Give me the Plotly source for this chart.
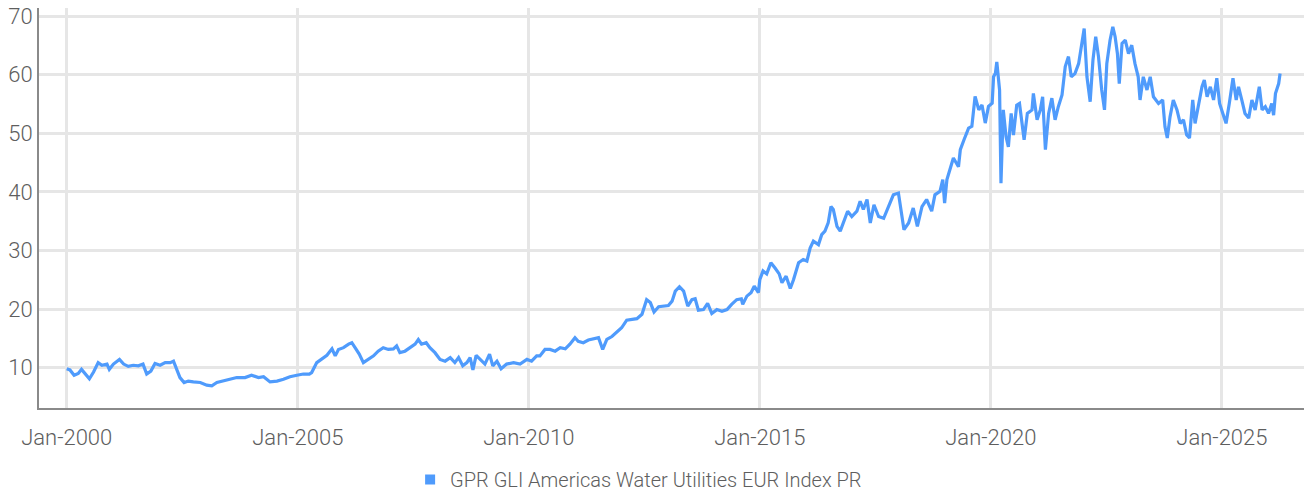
import plotly.graph_objects as go
import pandas as pd

# Time positions as decimal years and index values
years = [
    2000.00, 2000.07, 2000.16, 2000.25, 2000.32, 2000.40, 2000.49, 2000.58, 2000.68, 2000.76,
    2000.87, 2000.92, 2001.01, 2001.14, 2001.23, 2001.33, 2001.44, 2001.55, 2001.65, 2001.73,
    2001.82, 2001.91, 2002.02, 2002.13, 2002.24, 2002.31, 2002.38, 2002.45, 2002.54, 2002.63,
    2002.74, 2002.89, 2003.03, 2003.14, 2003.25, 2003.39, 2003.53, 2003.68, 2003.86, 2004.00,
    2004.15, 2004.26, 2004.40, 2004.55, 2004.69, 2004.83, 2004.98, 2005.12, 2005.25, 2005.30,
    2005.41, 2005.52, 2005.63, 2005.74, 2005.81, 2005.88, 2005.99, 2006.10, 2006.17, 2006.24,
    2006.33, 2006.42, 2006.53, 2006.64, 2006.74, 2006.85, 2006.96, 2007.07, 2007.14, 2007.21,
    2007.32, 2007.43, 2007.54, 2007.61, 2007.68, 2007.78, 2007.86, 2007.97, 2008.08, 2008.19,
    2008.30, 2008.40, 2008.48, 2008.57, 2008.66, 2008.73, 2008.79, 2008.86, 2008.95, 2009.05,
    2009.15, 2009.22, 2009.31, 2009.40, 2009.52, 2009.67, 2009.81, 2009.96, 2010.06, 2010.17,
    2010.24, 2010.35, 2010.46, 2010.57, 2010.68, 2010.79, 2010.89, 2011.00, 2011.07, 2011.18,
    2011.29, 2011.40, 2011.51, 2011.60, 2011.69, 2011.80, 2011.90, 2012.01, 2012.12, 2012.23,
    2012.34, 2012.45, 2012.55, 2012.63, 2012.71, 2012.81, 2012.91, 2013.02, 2013.10, 2013.17,
    2013.26, 2013.35, 2013.44, 2013.53, 2013.60, 2013.67, 2013.78, 2013.87, 2013.96, 2014.07,
    2014.18, 2014.29, 2014.39, 2014.50, 2014.60, 2014.63, 2014.72, 2014.81, 2014.88, 2014.97,
    2015.00, 2015.07, 2015.15, 2015.24, 2015.33, 2015.42, 2015.48, 2015.57, 2015.66, 2015.73,
    2015.84, 2015.94, 2016.02, 2016.09, 2016.16, 2016.27, 2016.34, 2016.41, 2016.48, 2016.54,
    2016.59, 2016.67, 2016.74, 2016.81, 2016.90, 2016.99, 2017.10, 2017.17, 2017.24, 2017.32,
    2017.39, 2017.47, 2017.57, 2017.68, 2017.78, 2017.89, 2018.00, 2018.07, 2018.12, 2018.22,
    2018.32, 2018.41, 2018.51, 2018.61, 2018.72, 2018.79, 2018.90, 2018.96, 2019.00, 2019.05,
    2019.12, 2019.19, 2019.30, 2019.34, 2019.42, 2019.52, 2019.59, 2019.66, 2019.74, 2019.81,
    2019.88, 2019.95, 2020.03, 2020.06, 2020.10, 2020.13, 2020.19, 2020.22, 2020.27, 2020.33,
    2020.38, 2020.44, 2020.49, 2020.56, 2020.62, 2020.67, 2020.72, 2020.79, 2020.89, 2020.92,
    2021.00, 2021.07, 2021.12, 2021.18, 2021.25, 2021.32, 2021.39, 2021.46, 2021.54, 2021.61,
    2021.68, 2021.74, 2021.82, 2021.90, 2021.97, 2022.02, 2022.08, 2022.15, 2022.21, 2022.27,
    2022.33, 2022.40, 2022.46, 2022.51, 2022.58, 2022.64, 2022.69, 2022.74, 2022.78, 2022.84,
    2022.91, 2022.98, 2023.05, 2023.12, 2023.19, 2023.23, 2023.30, 2023.38, 2023.45, 2023.52,
    2023.63, 2023.72, 2023.77, 2023.82, 2023.88, 2023.95, 2024.03, 2024.10, 2024.17, 2024.24,
    2024.30, 2024.37, 2024.42, 2024.49, 2024.57, 2024.62, 2024.68, 2024.75, 2024.82, 2024.89,
    2024.95, 2025.02, 2025.09, 2025.16, 2025.24, 2025.31, 2025.36, 2025.43, 2025.50, 2025.58,
    2025.65, 2025.72, 2025.81, 2025.87, 2025.94, 2026.01, 2026.08, 2026.12, 2026.16, 2026.23,
    2026.26,
]
values = [
    9.8, 9.6, 8.7, 9.0, 9.7, 8.9, 8.1, 9.25, 10.85, 10.4,
    10.6, 9.7, 10.6, 11.4, 10.6, 10.2, 10.4, 10.3, 10.6, 8.9,
    9.4, 10.7, 10.4, 10.85, 10.85, 11.1, 9.7, 8.3, 7.45, 7.7,
    7.55, 7.45, 7.0, 6.9, 7.45, 7.7, 7.9, 8.3, 8.3, 8.7,
    8.3, 8.45, 7.55, 7.7, 8.0, 8.45, 8.7, 8.9, 8.9, 9.15,
    10.85, 11.5, 12.1, 13.2, 12.0, 13.1, 13.4, 14.0, 14.25, 13.4,
    12.3, 10.85, 11.4, 12.0, 12.8, 13.4, 13.1, 13.2, 13.7, 12.55,
    12.8, 13.4, 14.0, 14.8, 14.0, 14.25, 13.4, 12.55, 11.4, 11.1,
    11.7, 10.85, 11.7, 10.3, 10.85, 11.7, 9.6, 12.1, 11.4, 10.6,
    12.3, 10.3, 11.1, 9.8, 10.6, 10.85, 10.6, 11.4, 11.1, 12.0,
    12.0, 13.1, 13.1, 12.8, 13.4, 13.2, 14.0, 15.1, 14.5, 14.25,
    14.7, 14.9, 15.1, 13.1, 14.8, 15.3, 16.0, 16.8, 18.1, 18.2,
    18.35, 19.1, 21.6, 21.1, 19.5, 20.4, 20.5, 20.6, 21.35, 23.05,
    23.8, 23.05, 20.5, 21.6, 21.75, 19.8, 19.9, 20.95, 19.25, 19.9,
    19.6, 19.9, 20.8, 21.6, 21.75, 20.8, 22.2, 22.8, 23.9, 22.8,
    25.0, 26.5, 26.0, 27.9, 27.0, 26.0, 24.5, 25.6, 23.5, 25.0,
    27.9, 28.45, 28.2, 30.4, 31.6, 31.0, 32.7, 33.3, 34.7, 37.5,
    37.0, 34.1, 33.3, 34.7, 36.7, 35.8, 36.7, 38.4, 37.0, 38.7,
    34.7, 37.8, 35.8, 35.5, 37.5, 39.5, 39.8, 35.8, 33.55, 34.7,
    37.25, 34.1, 37.5, 38.7, 36.7, 39.5, 40.1, 42.1, 38.1, 42.1,
    43.8, 45.8, 44.3, 47.2, 48.9, 50.9, 51.2, 56.3, 54.0, 54.85,
    51.75, 54.6, 55.15, 59.65, 60.25, 62.2, 57.4, 41.5, 54.0, 49.4,
    47.7, 53.4, 49.7, 54.8, 55.1, 51.7, 48.9, 53.4, 54.0, 56.8,
    52.3, 54.0, 56.25, 47.2, 53.4, 56.0, 52.3, 54.55, 56.55, 61.4,
    63.1, 59.65, 60.2, 61.9, 65.35, 67.9, 59.65, 55.4, 62.5, 66.5,
    63.1, 57.4, 54.0, 61.9, 65.9, 68.2, 66.5, 63.6, 58.5, 65.35,
    65.9, 63.6, 65.05, 61.9, 59.65, 55.7, 59.65, 57.4, 59.65, 56.25,
    55.1, 55.7, 51.1, 49.2, 52.85, 55.7, 54.0, 51.7, 52.3, 49.7,
    49.2, 55.7, 51.7, 54.55, 57.95, 59.1, 56.25, 57.95, 55.7, 59.4,
    55.1, 53.4, 51.7, 55.1, 59.4, 55.7, 57.95, 55.7, 53.4, 52.6,
    55.7, 54.0, 57.95, 54.0, 54.55, 53.4, 55.1, 53.1, 56.8, 58.5,
    60.2,
]
tick_dates = ["2000-01-01", "2005-01-01", "2010-01-01", "2015-01-01", "2020-01-01", "2025-01-01"]
tick_labels = ["Jan-2000", "Jan-2005", "Jan-2010", "Jan-2015", "Jan-2020", "Jan-2025"]
y_ticks = [10, 20, 30, 40, 50, 60, 70]
series_name = "GPR GLI Americas Water Utilities EUR Index PR"


def to_date(y):
    yr = int(y)
    start = pd.Timestamp(year=yr, month=1, day=1)
    end = pd.Timestamp(year=yr + 1, month=1, day=1)
    return start + (end - start) * (y - yr)


dates = [to_date(y) for y in years]

LINE = "#4f9bfc"
FONT = "Roboto, sans-serif"
TXT = "#5e5e5e"

fig = go.Figure()
fig.add_trace(go.Scatter(x=dates, y=values, mode="lines", line=dict(color=LINE, width=3.2),
                         showlegend=False, name=series_name))
fig.add_trace(go.Scatter(x=[None], y=[None], mode="markers", name=series_name,
                         marker=dict(symbol="square", size=10, color=LINE)))

fig.update_layout(
    width=1304, height=493,
    margin=dict(l=39, r=0, t=8, b=85, autoexpand=False),
    paper_bgcolor="white", plot_bgcolor="white",
    font=dict(family=FONT, color=TXT, size=20, weight=300),
    showlegend=True,
    legend=dict(orientation="h", x=0.474, xanchor="center", y=-0.13, yanchor="top",
                font=dict(family=FONT, size=20, color=TXT, weight=300), itemwidth=30,
                tracegroupgap=0),
    xaxis=dict(
        type="date", range=["1999-05-27", "2026-10-12"],
        tickvals=tick_dates, ticktext=tick_labels,
        showgrid=True, gridcolor="#e6e6e6", gridwidth=2.5,
        showline=True, linecolor="#8a8a8a", linewidth=2,
        ticks="outside", ticklen=9, tickcolor="rgba(0,0,0,0)",
        tickfont=dict(family=FONT, size=22, color=TXT, weight=300),
        zeroline=False, automargin=False, ticklabeloverflow="allow",
    ),
    yaxis=dict(
        range=[3.1, 71.4], tickvals=y_ticks,
        showgrid=True, gridcolor="#e6e6e6", gridwidth=2.5,
        showline=True, linecolor="#8a8a8a", linewidth=2,
        ticks="",
        tickfont=dict(family=FONT, size=22, color=TXT, weight=300),
        zeroline=False, automargin=False, ticklabeloverflow="allow",
    ),
)

# remove the page's default 8px body margin so the figure fills the window exactly
fig.write_html("out.html", config={"displayModeBar": False},
               post_script="document.body.style.margin='0';")
